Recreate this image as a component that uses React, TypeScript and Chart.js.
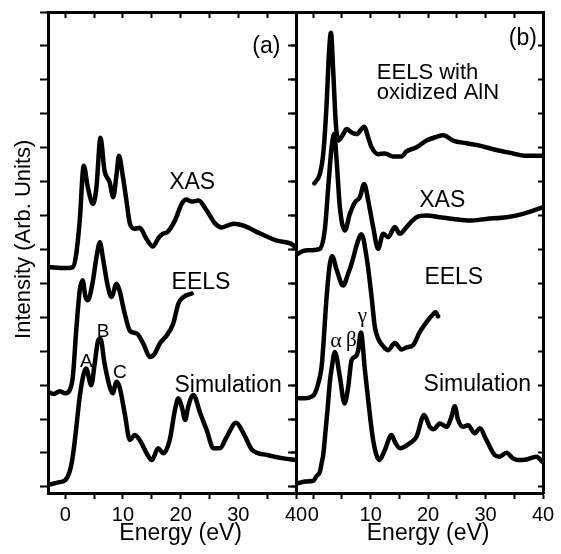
import React, { useEffect, useRef } from "react";
import { Chart, registerables } from "chart.js";

Chart.register(...registerables);

// ---------- data: panel (a) ----------
const xasA_E = [-3, 0, 1.3, 1.9, 2.5, 3.2, 3.9, 4.8, 5.4, 6.1, 6.8, 7.7, 8.3, 8.9, 9.3, 10.0, 10.6, 11.2, 12.0, 12.9, 14.1, 15.2, 16.2, 17.0, 17.6, 19.0, 20.2, 21.0, 21.9, 23.1, 24.5, 26.0, 27.1, 29.2, 30.9, 33.8, 36.7, 39.0, 40];
const xasA_I = [6.48, 6.45, 6.48, 6.87, 7.85, 9.47, 8.83, 8.34, 8.83, 10.29, 9.32, 8.98, 8.54, 9.23, 9.76, 9.13, 8.44, 7.76, 7.61, 7.64, 7.3, 7.09, 7.35, 7.47, 7.5, 7.85, 8.35, 8.47, 8.41, 8.44, 8.15, 7.76, 7.65, 7.76, 7.7, 7.47, 7.26, 7.18, 7.06];

const eelsA_E = [-3, -2, -1, 0, 0.75, 1.3, 1.9, 2.5, 3.0, 3.5, 3.9, 4.8, 5.4, 6.0, 6.5, 7.4, 8.0, 8.9, 9.4, 10.3, 11.2, 12.4, 13.5, 14.7, 15.5, 16.4, 17.6, 18.7, 19.6, 20.5, 21.9];
const eelsA_I = [2.8, 2.74, 2.82, 2.76, 2.85, 3.24, 4.62, 5.79, 6.09, 5.6, 5.5, 6.09, 6.77, 7.21, 6.77, 5.89, 5.6, 5.99, 5.79, 5.11, 4.6, 4.52, 4.23, 3.83, 3.93, 4.23, 4.47, 4.81, 5.4, 5.6, 5.7];

const simA_E = [-3, -1, 0, 0.75, 1.2, 1.6, 2.0, 2.5, 3.2, 3.6, 4.5, 5.1, 5.7, 6.1, 6.8, 7.7, 8.2, 8.9, 9.4, 10.3, 11.2, 12.0, 12.9, 14.1, 15.0, 16.1, 17.0, 18.1, 19.0, 19.6, 20.2, 20.8, 21.3, 22.2, 23.4, 24.5, 25.7, 26.8, 28.0, 29.6, 30.9, 32.4, 35.0, 37.8, 40];
const simA_I = [0.06, 0.14, 0.2, 0.45, 0.8, 1.29, 1.9, 2.66, 3.34, 3.49, 3.0, 3.64, 4.32, 4.37, 3.64, 2.95, 2.76, 3.1, 2.95, 2.17, 1.38, 1.53, 1.38, 0.99, 0.79, 1.14, 0.99, 1.38, 2.26, 2.61, 2.36, 1.97, 2.36, 2.71, 2.17, 1.68, 1.14, 1.14, 1.48, 1.89, 1.58, 1.09, 0.94, 0.84, 0.79];

// ---------- data: panel (b) ----------
const oxB_E = [0.2, 1.17, 1.74, 2.33, 2.73, 3.08, 3.48, 3.9, 4.35, 5.22, 5.81, 6.68, 7.55, 8.87, 9.57, 10.16, 11.3, 12.47, 13.91, 15.37, 16.24, 17.98, 19.72, 21.46, 22.6, 24.35, 26.68, 28.99, 31.9, 34.78, 36.82, 39.9];
const oxB_I = [8.95, 9.23, 9.81, 11.29, 12.76, 13.39, 12.26, 10.79, 10.21, 10.4, 10.55, 10.45, 10.4, 10.62, 10.3, 10.01, 9.81, 9.83, 9.74, 9.74, 9.89, 10.01, 10.21, 10.32, 10.37, 10.21, 10.13, 10.06, 9.93, 9.83, 9.76, 9.76];

const xasB_E = [-2.9, -1.44, 1.17, 2.03, 2.61, 3.2, 3.65, 4.07, 4.64, 5.51, 6.38, 7.25, 8.12, 8.87, 9.57, 10.43, 11.3, 12.17, 13.04, 14.21, 15.08, 16.24, 17.98, 19.72, 22.03, 24.35, 27.25, 30.16, 33.63, 36.52, 39.9];
const xasB_I = [6.85, 6.97, 7.02, 7.6, 8.83, 10.01, 10.4, 9.62, 8.24, 7.56, 8.05, 8.39, 8.54, 8.93, 8.44, 7.66, 7.02, 7.46, 7.36, 7.66, 7.46, 7.66, 7.95, 8.0, 7.95, 7.9, 7.85, 7.9, 7.95, 8.05, 8.24];

const eelsB_E = [-2.9, -1.44, -0.28, 0.3, 0.87, 1.46, 1.74, 2.33, 2.9, 3.3, 4.07, 5.2, 6.09, 6.8, 7.6, 8.4, 9.29, 10.16, 10.73, 11.3, 12.17, 13.04, 14.21, 15.37, 16.24, 17.39, 18.56, 19.72, 20.87, 21.3, 21.74];
const eelsB_I = [2.61, 2.61, 2.66, 2.76, 3.05, 3.54, 4.13, 5.6, 6.58, 6.8, 6.4, 5.94, 6.29, 6.65, 7.15, 7.45, 6.77, 5.6, 4.71, 4.37, 4.15, 4.03, 4.24, 4.05, 4.11, 4.18, 4.57, 4.86, 5.09, 5.15, 5.03];

const simB_E = [-2.9, -1.44, 0, 0.6, 1.17, 1.46, 1.74, 2.16, 2.5, 2.9, 3.3, 3.77, 4.64, 5.45, 6.09, 6.68, 7.4, 7.8, 8.3, 9.0, 9.57, 10.43, 11.5, 12.47, 13.63, 14.21, 15.08, 16.82, 17.98, 19.3, 20.3, 20.99, 22.03, 23.2, 24.07, 24.64, 25.22, 26.09, 26.96, 28.12, 28.99, 30.16, 31.6, 32.47, 33.63, 34.78, 35.65, 37.11, 38.85, 39.9];
const simB_I = [0.09, 0.16, 0.18, 0.32, 0.45, 0.7, 0.95, 1.68, 2.3, 3.1, 3.6, 3.98, 3.24, 2.46, 2.95, 3.74, 3.85, 4.0, 4.55, 3.44, 2.56, 1.38, 0.79, 1.09, 1.53, 1.33, 1.14, 1.29, 1.48, 2.12, 1.77, 1.7, 1.87, 1.77, 2.07, 2.38, 1.97, 1.77, 1.82, 1.58, 1.73, 1.38, 0.94, 0.89, 1.01, 0.84, 0.79, 0.81, 0.89, 0.74];

// ---------- axes ----------
const xTickValues = [0, 5, 10, 15, 20, 25, 30, 35, 40];
const xTickLabels = ["0", "", "10", "", "20", "", "30", "", "40"];
const yTickValues = [0, 1, 2, 3, 4, 5, 6, 7, 8, 9, 10, 11, 12, 13, 14];
const X_MIN = -3;
const X_MAX = 40;
const Y_MIN = -0.18;
const Y_MAX = 14;
const X_TITLE = "Energy (eV)";
const Y_TITLE = "Intensity (Arb. Units)";

// ---------- text labels (data coordinates) ----------
type Ann = { text: string; x: number; y: number; size: number; align?: CanvasTextAlign; serif?: boolean };
const labelsA: Ann[] = [
  { text: "(a)", x: 34.85, y: 12.8, size: 23 },
  { text: "XAS", x: 22.0, y: 8.79, size: 23 },
  { text: "EELS", x: 23.53, y: 5.84, size: 23 },
  { text: "Simulation", x: 28.23, y: 2.79, size: 23 },
  { text: "A", x: 3.65, y: 3.54, size: 19 },
  { text: "B", x: 6.54, y: 4.42, size: 19 },
  { text: "C", x: 9.44, y: 3.2, size: 19 },
];
const labelsB: Ann[] = [
  { text: "(b)", x: 36.5, y: 13.03, size: 23 },
  { text: "EELS with", x: 11.07, y: 12.03, size: 22, align: "left" },
  { text: "oxidized AlN", x: 11.07, y: 11.44, size: 22, align: "left" },
  { text: "XAS", x: 22.46, y: 8.24, size: 23 },
  { text: "EELS", x: 24.47, y: 5.99, size: 23 },
  { text: "Simulation", x: 28.56, y: 2.83, size: 23 },
  { text: "\u03b1", x: 3.95, y: 4.12, size: 22, serif: true },
  { text: "\u03b2", x: 6.64, y: 4.15, size: 21, serif: true },
  { text: "\u03b3", x: 8.56, y: 4.85, size: 21, serif: true },
];

const SANS = "'Liberation Sans', Arial, Helvetica, sans-serif";
const SERIF = "'Liberation Serif', 'DejaVu Serif', serif";

function pts(E: number[], I: number[]) {
  return E.map((e, i) => ({ x: e, y: I[i] }));
}

function lineDs(E: number[], I: number[]) {
  return {
    data: pts(E, I),
    borderColor: "#000",
    borderWidth: 4.5,
    pointRadius: 0,
    fill: false,
    cubicInterpolationMode: "monotone" as const,
    borderJoinStyle: "round" as const,
    borderCapStyle: "round" as const,
    xAxisID: "x",
    yAxisID: "y",
  };
}

function makeTextPlugin(labels: Ann[], showYTitle: boolean) {
  return {
    id: "panelText",
    afterDraw(chart: any) {
      const { ctx, scales } = chart;
      const xs = scales.x;
      const ys = scales.y;
      ctx.save();
      ctx.fillStyle = "#000";
      for (const a of labels) {
        ctx.font = `${a.size}px ${a.serif ? SERIF : SANS}`;
        ctx.textAlign = a.align || "center";
        ctx.textBaseline = "alphabetic";
        ctx.fillText(a.text, xs.getPixelForValue(a.x), ys.getPixelForValue(a.y));
      }
      ctx.font = `23px ${SANS}`;
      ctx.textAlign = "center";
      ctx.textBaseline = "alphabetic";
      ctx.fillText(X_TITLE, xs.getPixelForValue(20), chart.height - 14);
      if (showYTitle) {
        ctx.translate(24, ys.getPixelForValue(7.3));
        ctx.rotate(-Math.PI / 2);
        ctx.font = `22px ${SANS}`;
        ctx.textBaseline = "middle";
        ctx.fillText(Y_TITLE, 0, 0);
      }
      ctx.restore();
    },
  };
}

function scalesConfig(yWidth: number) {
  const border = { display: true, color: "#000", width: 3 };
  const setX = (s: any) => {
    s.ticks = xTickValues.map((v) => ({ value: v }));
  };
  const setY = (s: any) => {
    s.ticks = yTickValues.map((v) => ({ value: v }));
  };
  return {
    x: {
      type: "linear",
      position: "bottom",
      min: X_MIN,
      max: X_MAX,
      afterBuildTicks: setX,
      afterFit: (s: any) => {
        s.height = 61;
      },
      ticks: {
        autoSkip: false,
        maxRotation: 0,
        padding: 4,
        color: "#000",
        font: { family: SANS, size: 20 },
        callback: (v: any) => {
          const i = xTickValues.indexOf(Number(v));
          return i >= 0 ? xTickLabels[i] : "";
        },
      },
      grid: { drawOnChartArea: false, drawTicks: true, tickLength: 6, tickWidth: 2, tickColor: "#000" },
      border,
    },
    x2: {
      type: "linear",
      position: "top",
      min: X_MIN,
      max: X_MAX,
      afterBuildTicks: setX,
      afterFit: (s: any) => {
        s.height = 0;
      },
      ticks: { display: false },
      grid: { drawOnChartArea: false, drawTicks: true, tickLength: -6, tickWidth: 2, tickColor: "#000" },
      border,
    },
    y: {
      type: "linear",
      position: "left",
      min: Y_MIN,
      max: Y_MAX,
      afterBuildTicks: setY,
      afterFit: (s: any) => {
        s.width = yWidth;
      },
      ticks: { display: false },
      grid: { drawOnChartArea: false, drawTicks: true, tickLength: 8, tickWidth: 2, tickColor: "#000" },
      border,
    },
    y2: {
      type: "linear",
      position: "right",
      min: Y_MIN,
      max: Y_MAX,
      afterBuildTicks: setY,
      afterFit: (s: any) => {
        s.width = 0;
      },
      ticks: { display: false },
      grid: { drawOnChartArea: false, drawTicks: true, tickLength: -5, tickWidth: 2, tickColor: "#000" },
      border,
    },
  };
}

type PanelProps = {
  left: number;
  width: number;
  padding: { left: number; right: number; top: number; bottom: number };
  yWidth: number;
  series: { E: number[]; I: number[] }[];
  labels: Ann[];
  showYTitle: boolean;
};

function Panel({ left, width, padding, yWidth, series, labels, showYTitle }: PanelProps) {
  const ref = useRef<HTMLCanvasElement | null>(null);
  useEffect(() => {
    if (!ref.current) return;
    const chart = new Chart(ref.current, {
      type: "line",
      data: { datasets: series.map((s) => lineDs(s.E, s.I)) as any },
      options: {
        animation: false,
        responsive: false,
        devicePixelRatio: 1,
        layout: { padding },
        plugins: { legend: { display: false }, tooltip: { enabled: false } },
        scales: scalesConfig(yWidth) as any,
      },
      plugins: [makeTextPlugin(labels, showYTitle)],
    });
    return () => chart.destroy();
  }, []);
  return (
    <canvas
      ref={ref}
      width={width}
      height={554}
      style={{ position: "absolute", left, top: 0, width, height: 554, display: "block" }}
    />
  );
}

export default function App() {
  return (
    <div style={{ position: "fixed", left: 0, top: 0, width: 561, height: 554, background: "#fff" }}>
      <Panel
        left={0}
        width={320}
        padding={{ left: 0, right: 24, top: 12, bottom: 0 }}
        yWidth={48}
        series={[
          { E: xasA_E, I: xasA_I },
          { E: eelsA_E, I: eelsA_I },
          { E: simA_E, I: simA_I },
        ]}
        labels={labelsA}
        showYTitle={true}
      />
      <Panel
        left={280}
        width={281}
        padding={{ left: 16, right: 18, top: 12, bottom: 0 }}
        yWidth={0}
        series={[
          { E: oxB_E, I: oxB_I },
          { E: xasB_E, I: xasB_I },
          { E: eelsB_E, I: eelsB_I },
          { E: simB_E, I: simB_I },
        ]}
        labels={labelsB}
        showYTitle={false}
      />
    </div>
  );
}
